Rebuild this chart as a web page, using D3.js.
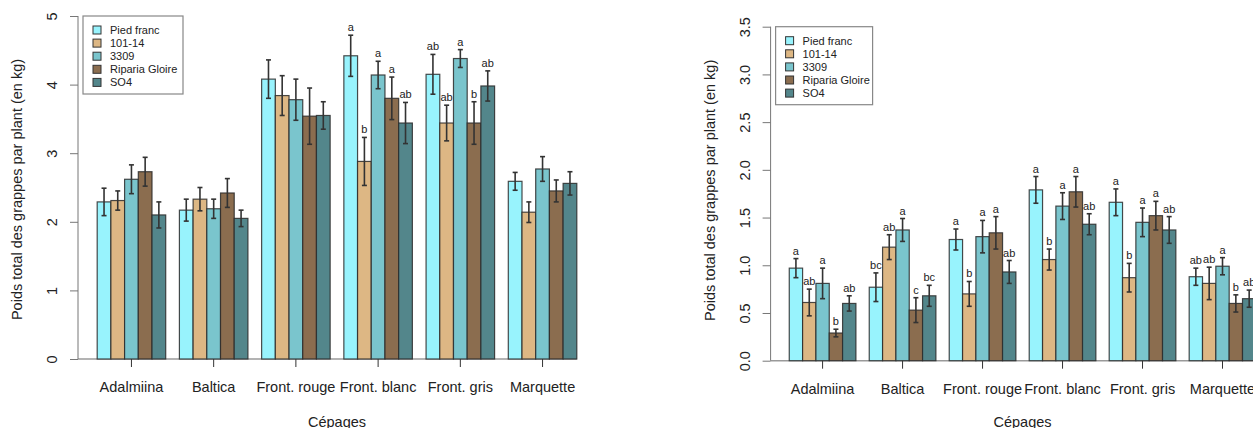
<!DOCTYPE html>
<html>
<head>
<meta charset="utf-8">
<script src="https://d3js.org/d3.v7.min.js"></script>
<style>
  body { margin: 0; background: #fff; }
  svg { display: block; font-family: "Liberation Sans", Arial, sans-serif; }
</style>
</head>
<body>
<div id="chart"></div>
<script>
// Categories
const cepages = ["Adalmiina", "Baltica", "Front. rouge", "Front. blanc", "Front. gris", "Marquette"];
const porteGreffes = ["Pied franc", "101-14", "3309", "Riparia Gloire", "SO4"];

// Left panel: means, standard errors and letters (rows = cépage, columns = porte-greffe)
const leftMeans = [
  [2.29, 2.31, 2.62, 2.73, 2.10],
  [2.17, 2.33, 2.19, 2.42, 2.05],
  [4.08, 3.84, 3.78, 3.54, 3.55],
  [4.42, 2.88, 4.14, 3.80, 3.44],
  [4.15, 3.44, 4.38, 3.44, 3.98],
  [2.59, 2.14, 2.77, 2.45, 2.56]
];
const leftErr = [
  [0.20, 0.14, 0.21, 0.21, 0.19],
  [0.16, 0.17, 0.14, 0.21, 0.12],
  [0.28, 0.29, 0.30, 0.41, 0.20],
  [0.30, 0.35, 0.20, 0.31, 0.30],
  [0.29, 0.26, 0.13, 0.31, 0.22],
  [0.13, 0.15, 0.18, 0.16, 0.17]
];
const leftLetters = [
  ["", "", "", "", ""],
  ["", "", "", "", ""],
  ["", "", "", "", ""],
  ["a", "b", "a", "a", "ab"],
  ["ab", "ab", "a", "b", "ab"],
  ["", "", "", "", ""]
];
const leftTicks = [0, 1, 2, 3, 4, 5];

// Right panel
const rightMeans = [
  [0.97, 0.61, 0.81, 0.29, 0.60],
  [0.77, 1.19, 1.37, 0.53, 0.68],
  [1.27, 0.70, 1.30, 1.34, 0.93],
  [1.79, 1.06, 1.62, 1.77, 1.43],
  [1.66, 0.87, 1.45, 1.52, 1.37],
  [0.88, 0.81, 0.99, 0.60, 0.65]
];
const rightErr = [
  [0.10, 0.14, 0.16, 0.04, 0.08],
  [0.15, 0.13, 0.12, 0.13, 0.11],
  [0.11, 0.13, 0.17, 0.17, 0.12],
  [0.14, 0.11, 0.14, 0.16, 0.11],
  [0.14, 0.15, 0.15, 0.15, 0.14],
  [0.09, 0.17, 0.09, 0.09, 0.09]
];
const rightLetters = [
  ["a", "ab", "a", "b", "ab"],
  ["bc", "ab", "a", "c", "bc"],
  ["a", "b", "a", "a", "ab"],
  ["a", "b", "a", "a", "ab"],
  ["a", "b", "a", "a", "ab"],
  ["ab", "ab", "a", "b", "ab"]
];
const rightTicks = [0, 0.5, 1, 1.5, 2, 2.5, 3, 3.5];

const colors = ["#98F3FD", "#DDB784", "#7AC5CD", "#8B6D4F", "#53868B"];

const width = 1253, height = 428;
const fontSize = 14.5;

const svg = d3.select("#chart")
  .append("svg")
    .attr("width", width)
    .attr("height", height);

// Draws one barplot panel (R barplot style, beside = TRUE)
function drawPanel(cfg) {
  const g = svg.append("g");

  // x in "bar units": each group = 1 space + 5 bars
  const nUnits = cepages.length * (porteGreffes.length + 1);
  const x = d3.scaleLinear()
    .domain([-0.4, nUnits + 1.4])
    .range([cfg.left, cfg.right]);
  const y = d3.scaleLinear()
    .domain(cfg.domain)
    .range([cfg.bottom, cfg.top]);

  const bw = x(1) - x(0);
  const barLeft = (i, j) => x(i * (porteGreffes.length + 1) + 1 + j);
  const groupCenter = i => x(i * (porteGreffes.length + 1) + 1 + porteGreffes.length / 2);

  // Flatten data
  const data = [];
  cepages.forEach((c, i) => {
    porteGreffes.forEach((p, j) => {
      data.push({ i, j, mean: cfg.means[i][j], err: cfg.err[i][j], letter: cfg.letters[i][j] });
    });
  });

  // Base line
  g.append("line")
    .attr("x1", x(-0.4)).attr("x2", barLeft(cepages.length - 1, porteGreffes.length))
    .attr("y1", y(0)).attr("y2", y(0))
    .attr("stroke", "#9a9a9a").attr("stroke-width", 1.5);

  // Bars
  g.selectAll("rect.bar")
    .data(data)
    .enter().append("rect")
      .attr("class", "bar")
      .attr("x", d => barLeft(d.i, d.j))
      .attr("y", d => y(d.mean))
      .attr("width", bw)
      .attr("height", d => y(0) - y(d.mean))
      .attr("fill", d => colors[d.j])
      .attr("stroke", "#2a2a2a")
      .attr("stroke-opacity", 0.85)
      .attr("stroke-width", 1.2);

  // Error bars
  const eb = g.selectAll("g.err")
    .data(data)
    .enter().append("g")
      .attr("class", "err")
      .attr("stroke", "#333")
      .attr("stroke-width", 1.6);
  eb.append("line")
    .attr("x1", d => barLeft(d.i, d.j) + bw / 2)
    .attr("x2", d => barLeft(d.i, d.j) + bw / 2)
    .attr("y1", d => y(d.mean - d.err))
    .attr("y2", d => y(d.mean + d.err));
  eb.append("line")
    .attr("x1", d => barLeft(d.i, d.j) + bw / 2 - 2.5)
    .attr("x2", d => barLeft(d.i, d.j) + bw / 2 + 2.5)
    .attr("y1", d => y(d.mean + d.err))
    .attr("y2", d => y(d.mean + d.err));
  eb.append("line")
    .attr("x1", d => barLeft(d.i, d.j) + bw / 2 - 2.5)
    .attr("x2", d => barLeft(d.i, d.j) + bw / 2 + 2.5)
    .attr("y1", d => y(d.mean - d.err))
    .attr("y2", d => y(d.mean - d.err));

  // Significance letters
  g.selectAll("text.letter")
    .data(data.filter(d => d.letter !== ""))
    .enter().append("text")
      .attr("class", "letter")
      .attr("x", d => barLeft(d.i, d.j) + bw / 2)
      .attr("y", d => y(d.mean + d.err) - 4)
      .attr("text-anchor", "middle")
      .attr("fill", "#222")
      .style("font-size", "11px")
      .text(d => d.letter);

  // Y axis
  const yAxis = g.append("g")
    .attr("transform", `translate(${cfg.left},0)`)
    .call(d3.axisLeft(y).tickValues(cfg.ticks).tickSize(8).tickSizeOuter(0)
      .tickFormat(cfg.format));
  yAxis.select(".domain")
    .attr("d", `M0,${y(cfg.ticks[0])}V${y(cfg.ticks[cfg.ticks.length - 1])}`)
    .attr("stroke", "#777");
  yAxis.selectAll(".tick line").attr("stroke", "#777");
  yAxis.selectAll(".tick text")
    .attr("x", null).attr("dy", null)
    .attr("transform", "translate(-26,0) rotate(-90)")
    .attr("text-anchor", "middle")
    .attr("dominant-baseline", "central")
    .attr("fill", "#222")
    .style("font-size", fontSize + "px");

  // X ticks and labels at group centers
  const xt = g.selectAll("g.xtick")
    .data(cepages)
    .enter().append("g")
      .attr("class", "xtick")
      .attr("transform", (c, i) => `translate(${groupCenter(i)},${y(0)})`);
  xt.append("line")
    .attr("y1", 0).attr("y2", 8)
    .attr("stroke", "#333").attr("stroke-width", 1);
  xt.append("text")
    .attr("y", 28)
    .attr("text-anchor", "middle")
    .attr("dominant-baseline", "central")
    .attr("fill", "#222")
    .style("font-size", fontSize + "px")
    .text(c => c);

  // Axis titles
  g.append("text")
    .attr("x", (x(-0.4) + x(nUnits + 1.4)) / 2)
    .attr("y", 422)
    .attr("text-anchor", "middle")
    .attr("dominant-baseline", "central")
    .attr("fill", "#222")
    .style("font-size", fontSize + "px")
    .text("Cépages");

  g.append("text")
    .attr("transform", `translate(${cfg.left - 61},${(cfg.bottom + 16) / 2 + 2}) rotate(-90)`)
    .attr("text-anchor", "middle")
    .attr("dominant-baseline", "central")
    .attr("fill", "#222")
    .style("font-size", fontSize + "px")
    .text("Poids total des grappes par plant (en kg)");

  // Legend
  const legend = g.append("g")
    .attr("transform", `translate(${cfg.left + 5},${cfg.top})`);
  legend.append("rect")
    .attr("x", 0).attr("y", 0)
    .attr("width", cfg.legendWidth).attr("height", 78)
    .attr("fill", "#fff")
    .attr("stroke", "#888").attr("stroke-width", 1.2);
  const items = legend.selectAll("g.item")
    .data(porteGreffes)
    .enter().append("g")
      .attr("class", "item")
      .attr("transform", (p, j) => `translate(0,${14 + j * 13.1})`);
  items.append("rect")
    .attr("x", 10).attr("y", -4)
    .attr("width", 8).attr("height", 8)
    .attr("fill", (p, j) => colors[j])
    .attr("stroke", "#333").attr("stroke-width", 1);
  items.append("text")
    .attr("x", 27)
    .attr("dominant-baseline", "central")
    .attr("fill", "#222")
    .style("font-size", "11px")
    .text(p => p);
}

drawPanel({
  means: leftMeans, err: leftErr, letters: leftLetters,
  ticks: leftTicks, domain: [0, 5], format: d3.format("d"),
  left: 78, right: 596, top: 16, bottom: 359, legendWidth: 100
});

drawPanel({
  means: rightMeans, err: rightErr, letters: rightLetters,
  ticks: rightTicks, domain: [0, 3.5], format: d3.format(".1f"),
  left: 770.6, right: 1274.5, top: 26.7, bottom: 360.7, legendWidth: 97
});
</script>
</body>
</html>
